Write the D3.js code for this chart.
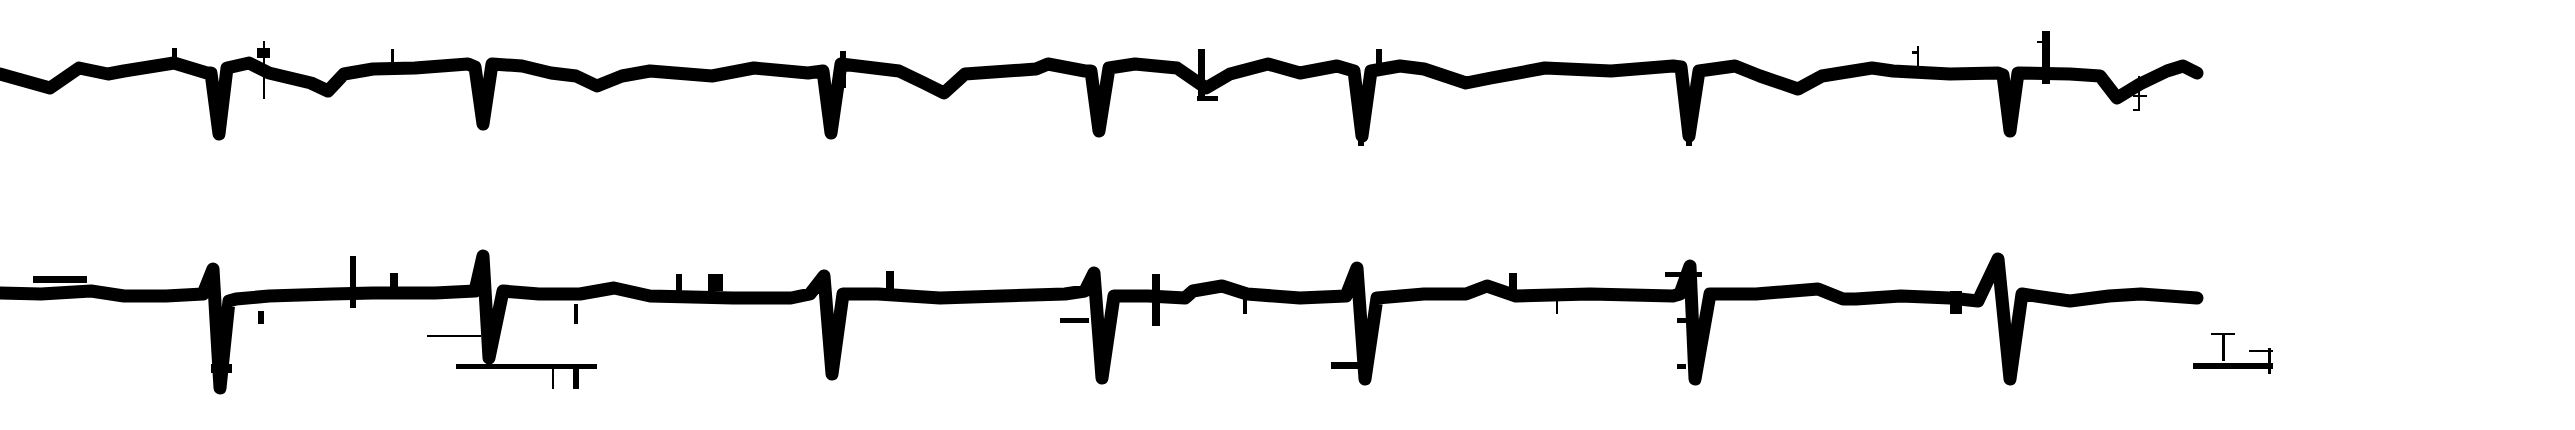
<!DOCTYPE html>
<html><head><meta charset="utf-8">
<script src="https://cdn.jsdelivr.net/npm/d3@7/dist/d3.min.js"></script>
<style>html,body{margin:0;padding:0;background:#fff;overflow:hidden}</style>
</head><body>
<svg id="chart" width="2575" height="430"></svg>
<script>
// ---- DATA (time in samples, amplitude in trace units, positive = up) ----
const topT = [0,50,79,108,124,174,207,211,219,227,249,269,311,328,344,373,415,468,475,483,492,522,551,576,597,622,650,712,754,808,823,831,841,899,924,944,965,1036,1048,1085,1091,1099,1109,1135,1177,1206,1230,1268,1300,1337,1354,1362,1371,1400,1424,1466,1491,1545,1611,1673,1681,1689,1699,1735,1760,1798,1822,1872,1893,1950,1998,2003,2010,2018,2070,2100,2117,2140,2167,2183,2197];
const topV = [-1,-15,5,-1,2,10,0,0,-61,5,10,0,-10,-18,-1,4,5,9,6,-51,9,7,0,-3,-13,-3,2,-3,5,0,2,-60,9,2,-10,-20,-1,4,9,2,2,-58,5,9,5,-15,-1,9,0,7,2,-63,2,7,4,-10,-5,5,2,7,6,-63,2,7,-3,-16,-3,5,2,-1,0,-2,-58,0,-1,-3,-25,-11,2,7,0];

const botT = [0,41,91,124,166,203,213,220,229,236,269,332,373,435,475,483,489,503,539,580,614,650,733,791,810,824,832,843,878,940,1002,1065,1085,1094,1102,1114,1148,1185,1193,1222,1247,1300,1346,1357,1365,1377,1424,1466,1487,1516,1590,1673,1680,1690,1695,1710,1756,1818,1843,1856,1901,1950,1978,1998,2010,2022,2070,2109,2141,2197];
const botV = [3,2,5,0,0,2,27,-92,-5,-3,0,2,3,3,5,40,-62,5,2,2,8,0,-2,-2,2,20,-78,2,2,-2,0,2,5,23,-82,0,0,-2,5,10,2,-2,0,28,-83,-2,2,2,10,0,2,0,2,30,-83,2,2,7,-3,-3,0,-2,-5,37,-83,2,-5,0,2,-2];

// artifact boxes: [t0, t1, v0, v1]
const topArtifacts = [
  [263,265,32,-26],[172,177,25,15],[391,394,24,9],[257,270,25,15],[840,846,22,-15],
  [1198,1205,24,-28],[1197,1218,-23,-28],[1376,1382,24,5],[1917,1919,27,2],[1912,1919,22,19],
  [2042,2050,42,-11],[2037,2050,32,30],[2138,2140,-3,-38],[2133,2147,-22,-24],[2133,2140,-36,-38],
  [1686,1692,-61,-73],[1358,1364,-58,-73]
];
const botArtifacts = [
  [33,87,20,13],[350,356,40,-12],[390,398,23,5],[427,481,-39,-41],[456,597,-68,-73],
  [573,579,-68,-93],[552,554,-72,-93],[258,264,-15,-28],[574,578,-8,-28],[676,682,22,5],
  [708,723,22,5],[886,894,25,5],[1060,1089,-22,-27],[1152,1160,22,-30],[1243,1247,8,-18],
  [1509,1517,23,2],[1556,1558,-2,-18],[1665,1702,24,19],[1687,1693,32,18],[1331,1358,-66,-73],
  [1677,1686,-68,-73],[1677,1686,-22,-27],[1950,1962,5,-18],[2193,2273,-67,-73],[2211,2235,-37,-39],
  [2222,2225,-38,-65],[2249,2273,-54,-56],[2268,2271,-52,-78],[211,232,-68,-77],[217,222,-80,-95]
];

// ---- DRAW ----
const svg = d3.select("#chart");
const x = d3.scaleLinear().domain([0, 2575]).range([0, 2575]);
const rows = [
  {t: topT, v: topV, art: topArtifacts, base: 73},
  {t: botT, v: botV, art: botArtifacts, base: 296}
];
rows.forEach(r => {
  const y = d3.scaleLinear().domain([-100, 100]).range([r.base + 100, r.base - 100]);
  const pts = r.t.map((t, i) => [t, r.v[i]]);
  const line = d3.line().x(d => x(d[0])).y(d => y(d[1])).curve(d3.curveLinear);
  svg.append("path").datum(pts)
    .attr("d", line).attr("fill", "none").attr("stroke", "#000")
    .attr("stroke-width", 13).attr("stroke-linejoin", "round").attr("stroke-linecap", "round");
  svg.append("g").selectAll("rect").data(r.art).join("rect")
    .attr("x", d => x(d[0])).attr("width", d => Math.max(1, x(d[1]) - x(d[0])))
    .attr("y", d => y(d[2])).attr("height", d => Math.max(1, y(d[3]) - y(d[2])))
    .attr("fill", "#000");
});
</script>
</body></html>
